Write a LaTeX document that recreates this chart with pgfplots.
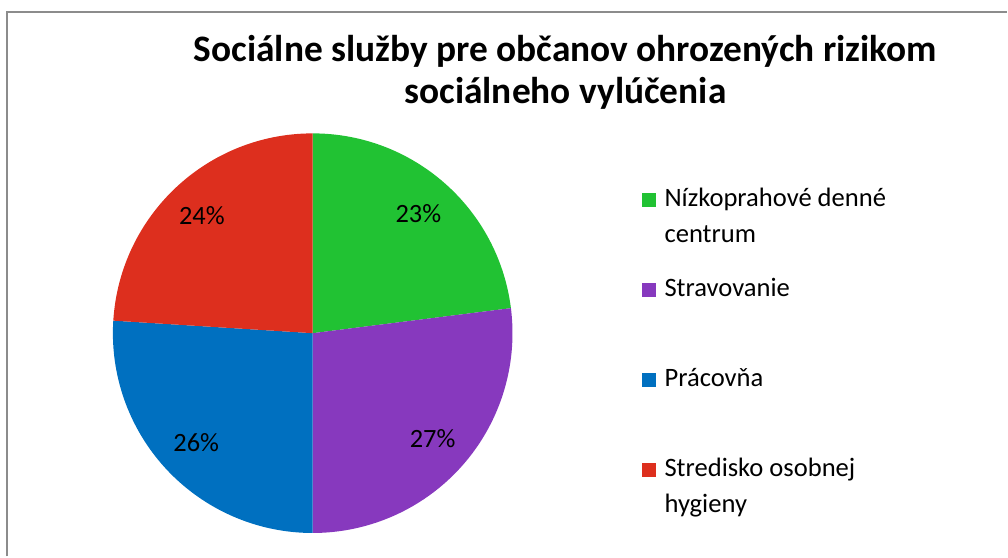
\documentclass[border=0pt]{standalone}
\usepackage{pgfplots}
\usepackage{pgfplotstable}
\pgfplotsset{compat=1.18}
\usepackage{fontspec}
\setmainfont{Carlito}
\definecolor{cGreen}{RGB}{33,194,51}
\definecolor{cPurple}{RGB}{135,57,190}
\definecolor{cBlue}{RGB}{0,112,192}
\definecolor{cRed}{RGB}{221,47,30}
\definecolor{cBorder}{RGB}{140,140,140}
\pgfplotstableread{
slice value
1 23
2 27
3 26
4 24
}\piedata
\begin{document}
\begin{tikzpicture}
\pgfplotstablegetelem{0}{value}\of\piedata\let\vA\pgfplotsretval
\pgfplotstablegetelem{1}{value}\of\piedata\let\vB\pgfplotsretval
\pgfplotstablegetelem{2}{value}\of\piedata\let\vC\pgfplotsretval
\pgfplotstablegetelem{3}{value}\of\piedata\let\vD\pgfplotsretval
\pgfmathsetmacro\aA{90}
\pgfmathsetmacro\aB{\aA-3.6*\vA}
\pgfmathsetmacro\aC{\aB-3.6*\vB}
\pgfmathsetmacro\aD{\aC-3.6*\vC}
\pgfmathsetmacro\aE{\aD-3.6*\vD}
\pgfmathsetmacro\mA{(\aA+\aB)/2}
\pgfmathsetmacro\mB{(\aB+\aC)/2}
\pgfmathsetmacro\mC{(\aC+\aD)/2}
\pgfmathsetmacro\mD{(\aD+\aE)/2}
\begin{axis}[
  at={(0,0)}, anchor=south west,
  scale only axis, width=1008pt, height=557pt,
  xmin=0, xmax=1008, ymin=0, ymax=557, y dir=reverse,
  hide axis, clip=false]
% full canvas
\path (axis cs:0,0) rectangle (axis cs:1008,557);
% border
\draw[cBorder, line width=2pt] (axis cs:7.5,557) -- (axis cs:7.5,12) -- (axis cs:1008,12);
% title
\node[anchor=base, font=\bfseries\fontsize{37.4}{42}\selectfont, inner sep=0pt] at (axis cs:566,62) {Sociálne služby pre občanov ohrozených rizikom};
\node[anchor=base, font=\bfseries\fontsize{37.4}{42}\selectfont, inner sep=0pt] at (axis cs:566,104) {sociálneho vylúčenia};
% pie
\fill[cGreen]  (axis cs:313,333.5) -- ++(\aA:200pt) arc[start angle=\aA, end angle=\aB, radius=200pt] -- cycle;
\fill[cPurple] (axis cs:313,333.5) -- ++(\aB:200pt) arc[start angle=\aB, end angle=\aC, radius=200pt] -- cycle;
\fill[cBlue]   (axis cs:313,333.5) -- ++(\aC:200pt) arc[start angle=\aC, end angle=\aD, radius=200pt] -- cycle;
\fill[cRed]    (axis cs:313,333.5) -- ++(\aD:200pt) arc[start angle=\aD, end angle=\aE, radius=200pt] -- cycle;
% labels
\path (axis cs:313,333.5) ++(\mA:160pt) node[font=\fontsize{26.4}{30}\selectfont, inner sep=0pt] {\vA\%};
\path (axis cs:313,333.5) ++(\mB:160pt) node[font=\fontsize{26.4}{30}\selectfont, inner sep=0pt] {\vB\%};
\path (axis cs:313,333.5) ++(\mC:160pt) node[font=\fontsize{26.4}{30}\selectfont, inner sep=0pt] {\vC\%};
\path (axis cs:313,333.5) ++(\mD:162pt) node[font=\fontsize{26.4}{30}\selectfont, inner sep=0pt] {\vD\%};
% legend
\fill[cGreen]  (axis cs:643,193) rectangle (axis cs:657,207);
\fill[cPurple] (axis cs:643,283) rectangle (axis cs:657,297);
\fill[cBlue]   (axis cs:643,373) rectangle (axis cs:657,387);
\fill[cRed]    (axis cs:643,463) rectangle (axis cs:657,477);
\node[anchor=base west, inner sep=0pt, font=\fontsize{26.6}{36}\selectfont] at (axis cs:665,207) {Nízkoprahové denné};
\node[anchor=base west, inner sep=0pt, font=\fontsize{26.6}{36}\selectfont] at (axis cs:665,243) {centrum};
\node[anchor=base west, inner sep=0pt, font=\fontsize{26.6}{36}\selectfont] at (axis cs:665,297) {Stravovanie};
\node[anchor=base west, inner sep=0pt, font=\fontsize{26.6}{36}\selectfont] at (axis cs:665,387) {Prácovňa};
\node[anchor=base west, inner sep=0pt, font=\fontsize{26.6}{36}\selectfont] at (axis cs:665,477) {Stredisko osobnej};
\node[anchor=base west, inner sep=0pt, font=\fontsize{26.6}{36}\selectfont] at (axis cs:665,513) {hygieny};
\end{axis}
\end{tikzpicture}
\end{document}
